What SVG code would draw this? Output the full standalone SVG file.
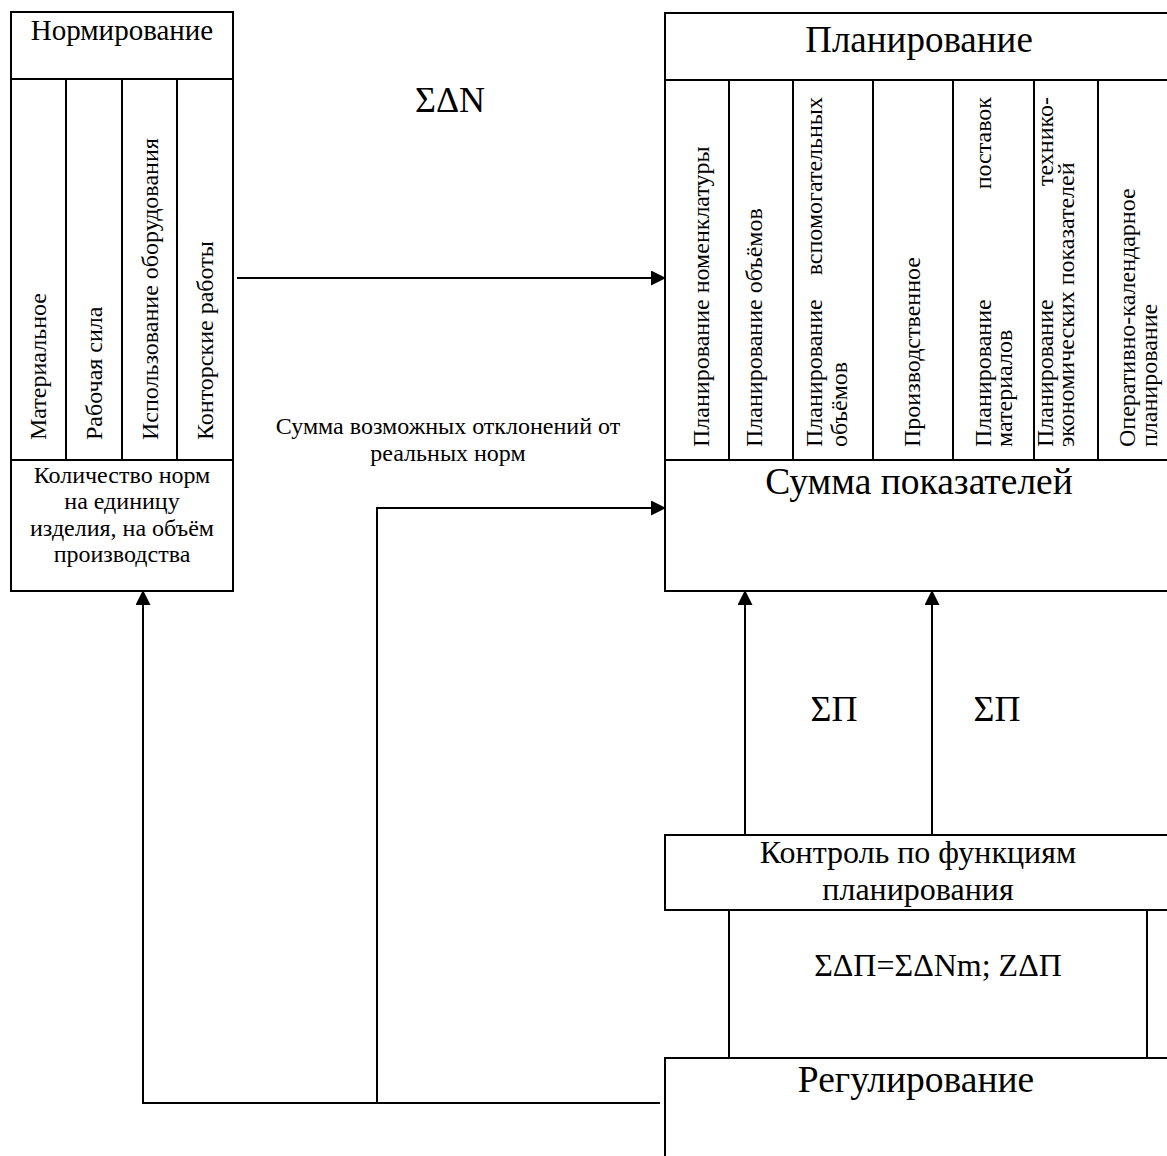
<svg xmlns="http://www.w3.org/2000/svg" width="1167" height="1156" viewBox="0 0 1167 1156">
<style>
.t{font-family:"Liberation Serif","Times New Roman",serif;fill:#000}
.ln{fill:none;stroke:#000;stroke-width:2}
.c{stroke:#000;stroke-width:2;fill:none}
</style>
<defs>
<marker id="ah" markerUnits="userSpaceOnUse" markerWidth="15" markerHeight="15" refX="14" refY="7.5" orient="auto">
<path d="M0,0 L15,7.5 L0,15 Z" fill="#000"/>
</marker>
</defs>
<rect width="1167" height="1156" fill="#fff"/>

<g id="normirovanie">
<rect class="ln" x="11" y="12" width="222" height="579"/>
<path class="ln" d="M11,79 H233 M11,460 H233 M66,79 V460 M122,79 V460 M177,79 V460"/>
<text class="t" x="122" y="40" font-size="29" text-anchor="middle">Нормирование</text>
<g font-size="24">
<text class="t" transform="translate(46,440) rotate(-90)">Материальное</text>
<text class="t" transform="translate(102,440) rotate(-90)">Рабочая сила</text>
<text class="t" transform="translate(158,440) rotate(-90)">Использование оборудования</text>
<text class="t" transform="translate(213,440) rotate(-90)">Конторские работы</text>
</g>
<g font-size="24" text-anchor="middle">
<text class="t" x="122" y="483">Количество норм</text>
<text class="t" x="122" y="509">на единицу</text>
<text class="t" x="122" y="536">изделия, на объём</text>
<text class="t" x="122" y="562">производства</text>
</g>
</g>

<g id="planirovanie">
<path class="ln" d="M1167,13 H665 V591 H1167 M665,80 H1167 M665,460 H1167 M729,80 V460 M793,80 V460 M873,80 V460 M953,80 V460 M1034,80 V460 M1098,80 V460"/>
<text class="t" x="919" y="52" font-size="37" text-anchor="middle">Планирование</text>
<g font-size="24">
<text class="t" transform="translate(709,447) rotate(-90)">Планирование номенклатуры</text>
<text class="t" transform="translate(762,447) rotate(-90)">Планирование объёмов</text>
<text class="t" transform="translate(822,447) rotate(-90)">Планирование</text>
<text class="t" transform="translate(822,97) rotate(-90)" text-anchor="end">вспомогательных</text>
<text class="t" transform="translate(847,447) rotate(-90)">объёмов</text>
<text class="t" transform="translate(920,447) rotate(-90)">Производственное</text>
<text class="t" transform="translate(991,447) rotate(-90)">Планирование</text>
<text class="t" transform="translate(991,97) rotate(-90)" text-anchor="end">поставок</text>
<text class="t" transform="translate(1012,447) rotate(-90)">материалов</text>
<text class="t" transform="translate(1053,447) rotate(-90)">Планирование</text>
<text class="t" transform="translate(1053,97) rotate(-90)" text-anchor="end">технико-</text>
<text class="t" transform="translate(1074,447) rotate(-90)">экономических показателей</text>
<text class="t" transform="translate(1135,447) rotate(-90)">Оперативно-календарное</text>
<text class="t" transform="translate(1157,447) rotate(-90)">планирование</text>
</g>
<text class="t" x="919" y="494" font-size="37.5" text-anchor="middle">Сумма показателей</text>
</g>

<g id="kontrol">
<path class="ln" d="M1167,835 H665 V910 H1167"/>
<text class="t" x="918" y="863" font-size="32" text-anchor="middle">Контроль по функциям</text>
<text class="t" x="918" y="900" font-size="32" text-anchor="middle">планирования</text>
</g>

<g id="formula">
<path class="ln" d="M729,910 V1058 M1147,910 V1058"/>
<text class="t" x="938" y="976" font-size="32" text-anchor="middle">ΣΔП=ΣΔNm; ZΔП</text>
</g>

<g id="regulirovanie">
<path class="ln" d="M1167,1058 H665 V1156"/>
<text class="t" x="916" y="1092" font-size="37.5" text-anchor="middle">Регулирование</text>
</g>

<g id="connectors">
<path class="c" d="M237,278 H665" marker-end="url(#ah)"/>
<path class="c" d="M660,1103 H143 V591" marker-end="url(#ah)"/>
<path class="c" d="M377,1103 V508 H665" marker-end="url(#ah)"/>
<path class="c" d="M745,835 V591" marker-end="url(#ah)"/>
<path class="c" d="M932,835 V591" marker-end="url(#ah)"/>
</g>

<g id="labels">
<text class="t" x="450" y="112" font-size="36" text-anchor="middle">ΣΔN</text>
<text class="t" x="448" y="434" font-size="24" text-anchor="middle">Сумма возможных отклонений от</text>
<text class="t" x="448" y="461" font-size="24" text-anchor="middle">реальных норм</text>
<text class="t" x="834" y="721" font-size="36" text-anchor="middle">ΣП</text>
<text class="t" x="997" y="721" font-size="36" text-anchor="middle">ΣП</text>
</g>
</svg>
